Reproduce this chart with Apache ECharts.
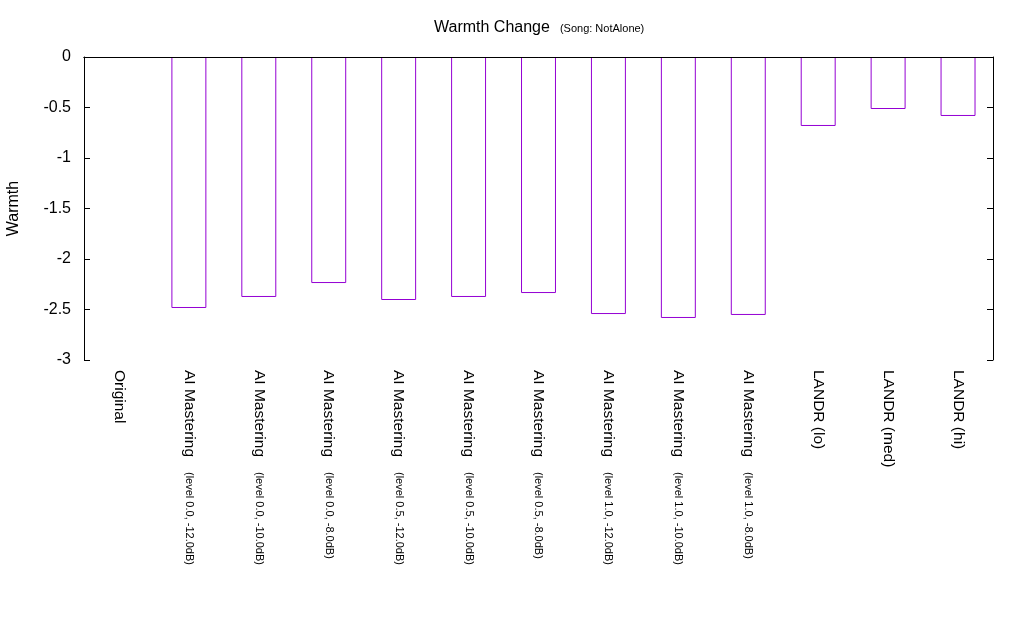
<!DOCTYPE html>
<html>
<head>
<meta charset="utf-8">
<script src="https://cdn.jsdelivr.net/npm/echarts@6/dist/echarts.min.js"></script>
<style>html,body{margin:0;padding:0;background:#fff;}#c{width:1024px;height:640px;}</style>
</head>
<body>
<div id="c"></div>
<script>
var mainNames = ['Original','AI Mastering','AI Mastering','AI Mastering','AI Mastering','AI Mastering','AI Mastering','AI Mastering','AI Mastering','AI Mastering','LANDR (lo)','LANDR (med)','LANDR (hi)'];
var subNames = ['','(level 0.0, -12.0dB)','(level 0.0, -10.0dB)','(level 0.0, -8.0dB)','(level 0.5, -12.0dB)','(level 0.5, -10.0dB)','(level 0.5, -8.0dB)','(level 1.0, -12.0dB)','(level 1.0, -10.0dB)','(level 1.0, -8.0dB)','','',''];
var warmth = [0, -2.485, -2.376, -2.238, -2.406, -2.376, -2.337, -2.545, -2.584, -2.554, -0.683, -0.515, -0.584];
var yTicks = {min: -3, max: 0, interval: 0.5};

var categories = mainNames.map(function(m, i){ return String(i); });
var font = 'Liberation Sans, Arial, sans-serif';
var chart = echarts.init(document.getElementById('c'));
chart.setOption({
  animation: false,
  title: {
    text: '{a|Warmth Change}  {b|(Song: NotAlone)}',
    left: 429, top: 14,
    textStyle: { rich: {
      a: {fontSize: 16, fontFamily: font, color: '#000', fontWeight: 'normal'},
      b: {fontSize: 11, fontFamily: font, color: '#000', fontWeight: 'normal', padding: [2, 0, 0, 0]}
    }}
  },
  grid: {left: 84, right: 31, top: 57, bottom: 280, outerBoundsMode: 'none', containLabel: false},
  xAxis: [{
    type: 'category', data: categories, position: 'bottom', z: 5,
    axisLine: {lineStyle: {color: '#000', width: 1}},
    axisTick: {inside: true, alignWithLabel: true, length: 6, lineStyle: {color: '#000'}},
    axisLabel: {
      rotate: -90, margin: 10, interval: 0,
      formatter: function(v){ var i = +v; return subNames[i] ? '{a|' + mainNames[i] + '}{b|' + subNames[i] + '}' : '{a|' + mainNames[i] + '}'; },
      rich: {
        a: {fontSize: 15.5, fontFamily: font, color: '#000'},
        b: {fontSize: 11, fontFamily: font, color: '#000', padding: [0, 0, 0, 15]}
      }
    }
  }, {
    type: 'category', data: categories, position: 'top', z: 5,
    axisLine: {lineStyle: {color: '#000', width: 1}},
    axisTick: {inside: true, alignWithLabel: true, length: 6, lineStyle: {color: '#000'}},
    axisLabel: {show: false}
  }],
  yAxis: [{
    type: 'value', min: yTicks.min, max: yTicks.max, interval: yTicks.interval, z: 5,
    name: 'Warmth', nameLocation: 'middle', nameGap: 62, nameRotate: 90,
    nameTextStyle: {fontSize: 16, fontFamily: font, color: '#000'},
    axisLine: {show: true, lineStyle: {color: '#000', width: 1}},
    axisTick: {show: true, inside: true, length: 6, lineStyle: {color: '#000'}},
    axisLabel: {fontSize: 16, fontFamily: font, color: '#000', margin: 13},
    splitLine: {show: false}
  }, {
    type: 'value', min: yTicks.min, max: yTicks.max, interval: yTicks.interval, position: 'right', z: 5,
    axisLine: {show: true, lineStyle: {color: '#000', width: 1}},
    axisTick: {show: true, inside: true, length: 6, lineStyle: {color: '#000'}},
    axisLabel: {show: false},
    splitLine: {show: false}
  }],
  series: [{
    type: 'bar', barWidth: '50%', z: 2,
    data: warmth.map(function(v){ return v === 0 ? {value: v, itemStyle: {borderWidth: 0}} : v; }),
    itemStyle: {color: 'rgba(0,0,0,0)', borderColor: '#9400d3', borderWidth: 1}
  }]
});
</script>
</body>
</html>
